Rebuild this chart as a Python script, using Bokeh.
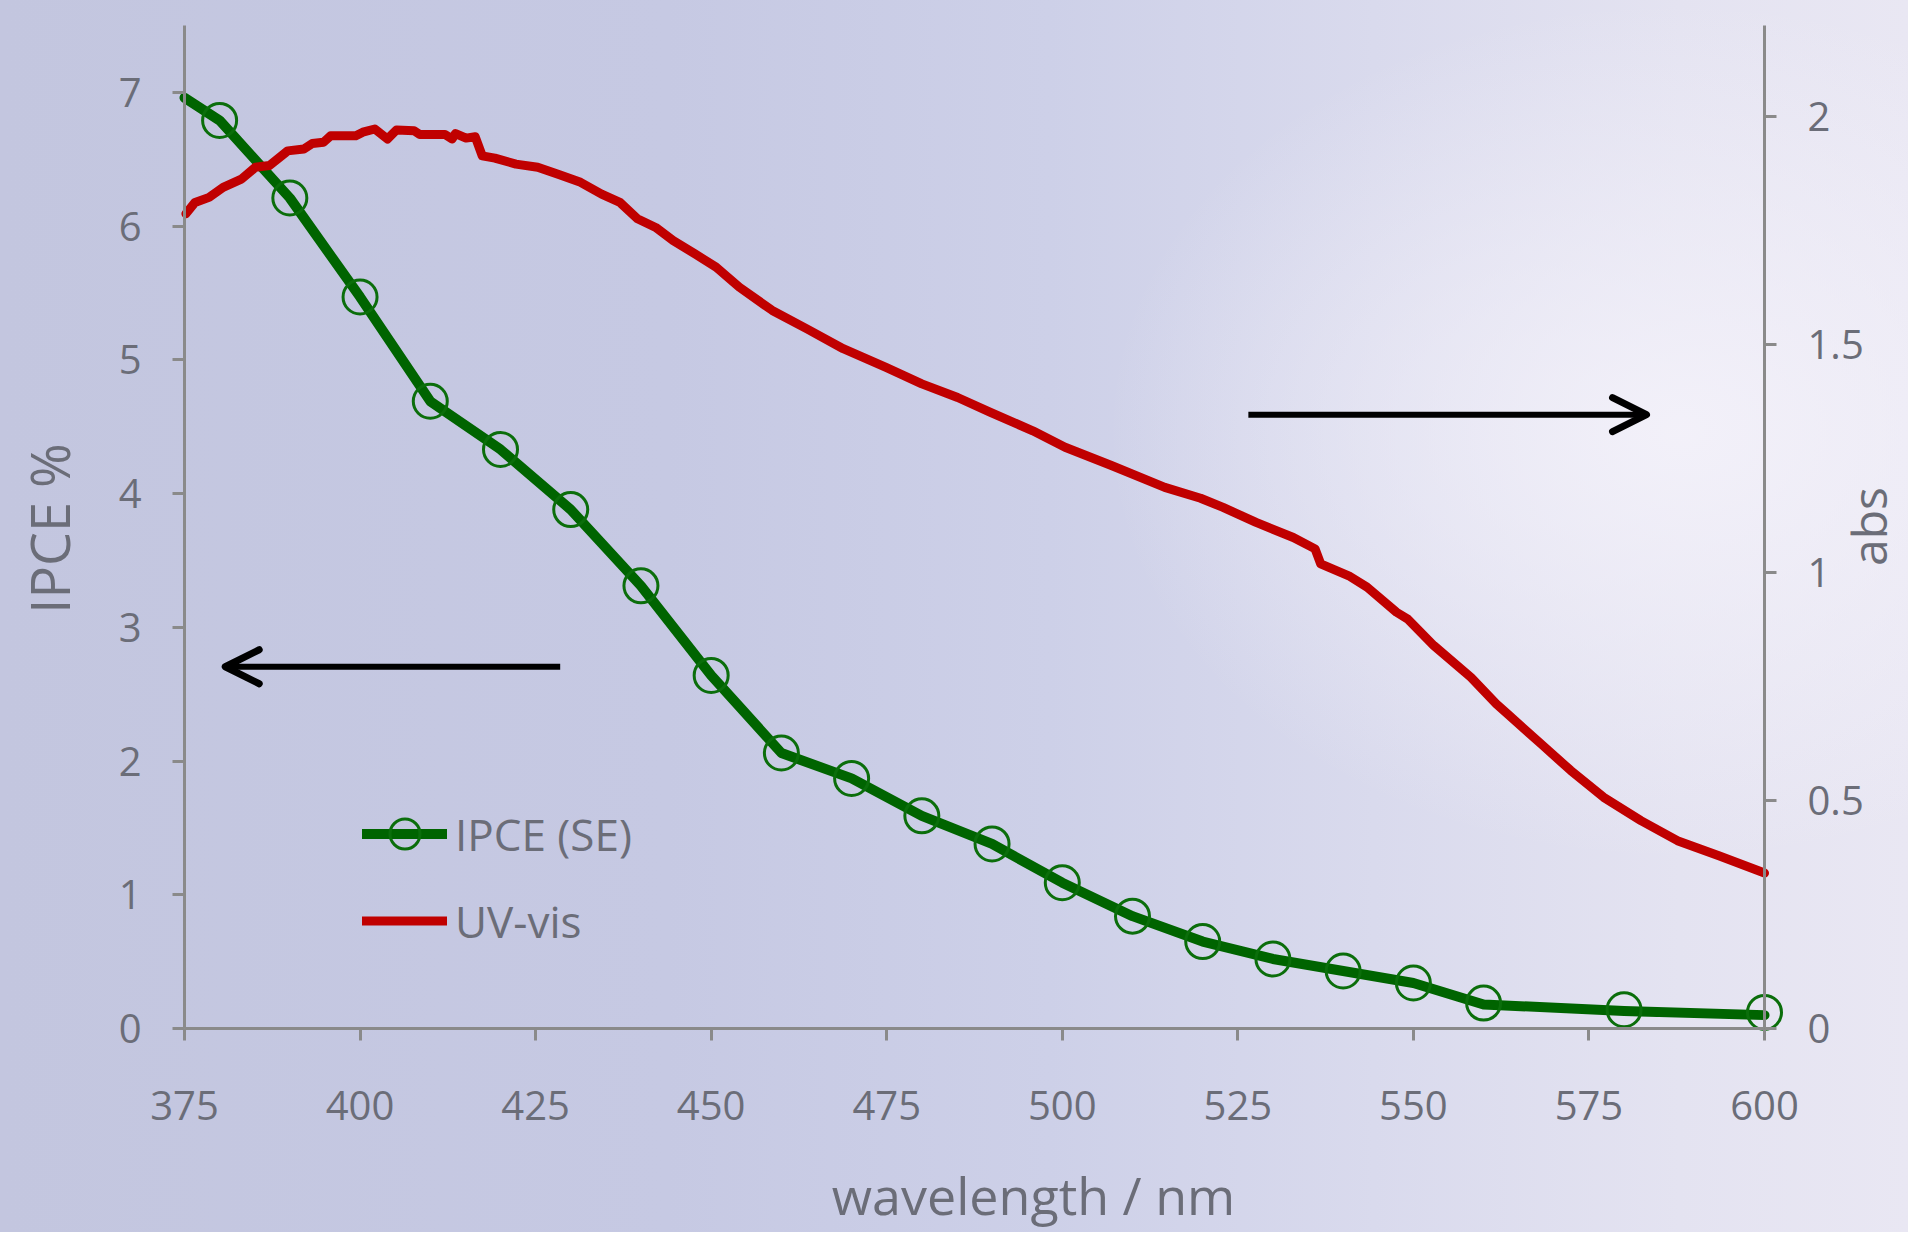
import math
import re
from bokeh.plotting import figure
from bokeh.models import (Range1d, LinearAxis, FixedTicker, NumeralTickFormatter,
                          Legend, LegendItem, Arrow, OpenHead, Label)
from bokeh.embed import file_html
from bokeh.resources import INLINE

# ---------------- data ----------------
x_ticks = [375, 400, 425, 450, 475, 500, 525, 550, 575, 600]
y_ticks_left = [0, 1, 2, 3, 4, 5, 6, 7]
y_ticks_right = [0, 0.5, 1, 1.5, 2]

# IPCE (SE) markers
ipce_wl = [380, 390, 400, 410, 420, 430, 440, 450, 460, 470, 480, 490, 500,
           510, 520, 530, 540, 550, 560, 580, 600]
ipce_val = [6.79, 6.21, 5.47, 4.69, 4.33, 3.88, 3.31, 2.64, 2.06, 1.87, 1.59, 1.38,
            1.09, 0.84, 0.65, 0.52, 0.43, 0.34, 0.19, 0.14, 0.12]
# IPCE line (starts at the axis)
ipce_line_wl = [375, 380, 390, 400, 410, 420, 430, 440, 450, 460, 470, 480, 490,
                500, 510, 520, 530, 540, 550, 560, 580, 600]
ipce_line_val = [6.96, 6.79, 6.21, 5.47, 4.69, 4.33, 3.88, 3.31, 2.64, 2.06, 1.87,
                 1.59, 1.38, 1.09, 0.84, 0.65, 0.52, 0.43, 0.34, 0.18, 0.13, 0.10]

# UV-vis absorbance
uv_wl = [375.2, 376.5, 378.5, 380.5, 383.1, 385.1, 387.1, 389.7, 392.0, 393.2, 394.8,
         395.8, 399.4, 400.4, 402.1, 403.9, 405.2, 407.7, 408.5, 412.1, 413.1, 413.6,
         415.1, 416.4, 417.4, 419.2, 422.2, 425.3, 428.3, 431.4, 434.4, 437.0, 439.5,
         442.1, 444.6, 447.7, 450.7, 454.0, 458.7, 463.7, 468.8, 474.9, 480.0, 485.1,
         489.7, 495.8, 500.4, 507.0, 514.6, 519.7, 522.9, 527.6, 532.9, 536.0, 536.8,
         540.8, 543.4, 547.6, 549.2, 552.9, 558.2, 561.8, 563.4, 568.2, 572.4, 577.1,
         582.4, 587.6, 593.5, 600.0]
uv_val = [1.787, 1.812, 1.823, 1.845, 1.863, 1.889, 1.893, 1.925, 1.929, 1.941, 1.944,
          1.958, 1.958, 1.966, 1.973, 1.951, 1.971, 1.969, 1.961, 1.961, 1.951, 1.963,
          1.953, 1.956, 1.914, 1.909, 1.896, 1.889, 1.873, 1.856, 1.830, 1.812, 1.776,
          1.757, 1.728, 1.699, 1.670, 1.626, 1.575, 1.534, 1.491, 1.450, 1.414, 1.384,
          1.352, 1.311, 1.275, 1.235, 1.187, 1.163, 1.143, 1.110, 1.077, 1.052, 1.019,
          0.993, 0.968, 0.913, 0.898, 0.840, 0.770, 0.712, 0.690, 0.624, 0.566, 0.507,
          0.456, 0.412, 0.379, 0.341]

# axis extents
x_min, x_max = 375, 600
y_min, y_max = 0, 7.5
abs_min, abs_max = 0, 2.2

# annotation arrows (data coordinates)
left_arrow = dict(x_start=428.5, x_end=380.8, y=2.705)
right_arrow = dict(x_start=526.5, x_end=583.2, y=4.59)

# ---------------- page geometry (pixels) ----------------
W, H = 1908, 1232
AX_L, AX_R, AX_T, AX_B = 184, 1764, 25, 1028     # where the axes sit on the canvas
sx = (AX_R - AX_L) / (x_max - x_min)
sy = (AX_B - AX_T) / (y_max - y_min)
sa = (AX_B - AX_T) / (abs_max - abs_min)
xr = Range1d(x_min - AX_L / sx, x_max + (W - AX_R) / sx)
yr = Range1d(y_min - (H - AX_B) / sy, y_max + AX_T / sy)
ar = Range1d(abs_min - (H - AX_B) / sa, abs_max + AX_T / sa)

# ---------------- styles ----------------
FONT = "Open Sans"
TXT = "#6b6d78"
AXC = "#8a8a8a"
GREEN = "#006400"
MARK = "#0b6e0b"
RED = "#c00000"
BG = ("radial-gradient(ellipse 30% 35% at 88% 35%, rgba(244,242,250,0.9), "
      "rgba(244,242,250,0) 100%), linear-gradient(90deg, #c3c6df 0%, #c6c9e3 35%, "
      "#cdd0e8 55%, #d9daed 72%, #e4e3f1 88%, #e9e7f3 100%)")

p = figure(width=W, height=H, x_range=xr, y_range=yr,
           output_backend="svg", toolbar_location=None, x_axis_type=None, y_axis_type=None,
           min_border=0, border_fill_color=None, background_fill_color=None,
           outline_line_color=None)
p.styles = {"background-image": BG}
p.grid.visible = False
p.extra_y_ranges = {"abs": ar}


def style_axis(ax, ticks):
    ax.ticker = FixedTicker(ticks=ticks)
    ax.axis_line_color = AXC
    ax.axis_line_width = 3
    ax.major_tick_line_color = AXC
    ax.major_tick_line_width = 3
    ax.major_tick_in = 0
    ax.major_tick_out = 12
    ax.minor_tick_line_color = None
    ax.major_label_text_font = FONT
    ax.major_label_text_font_size = "40px"
    ax.major_label_text_color = TXT
    ax.major_label_standoff = 31


xaxis = LinearAxis(fixed_location=y_min, bounds=(x_min, x_max))
style_axis(xaxis, x_ticks)
xaxis.major_label_standoff = 50
p.add_layout(xaxis, "below")

yaxis = LinearAxis(fixed_location=x_min, bounds=(y_min, y_max))
style_axis(yaxis, y_ticks_left)
p.add_layout(yaxis, "left")

aaxis = LinearAxis(fixed_location=x_max, bounds=(abs_min, abs_max), y_range_name="abs")
style_axis(aaxis, y_ticks_right)
aaxis.formatter = NumeralTickFormatter(format="0.[0]")
p.add_layout(aaxis, "right")

# ---------------- series ----------------
gl = p.line(ipce_line_wl, ipce_line_val, line_color=GREEN, line_width=10,
            line_join="round", line_cap="round")
gs = p.scatter(ipce_wl, ipce_val, marker="circle", size=34, fill_color=None,
               line_color=MARK, line_width=3)
rl = p.line(uv_wl, uv_val, line_color=RED, line_width=9, line_join="round",
            line_cap="round", y_range_name="abs")

legend = Legend(items=[LegendItem(label="IPCE (SE)", renderers=[gl, gs]),
                       LegendItem(label="UV-vis", renderers=[rl])],
                location=(178 + AX_L, 70 + (H - AX_B)), orientation="vertical",
                glyph_width=85, glyph_height=75, spacing=12, padding=0, margin=0,
                label_standoff=8, label_text_font=FONT, label_text_font_size="44px",
                label_text_color=TXT, border_line_color=None,
                background_fill_alpha=0)
p.add_layout(legend)

# ---------------- arrows ----------------
for a in (left_arrow, right_arrow):
    p.add_layout(Arrow(end=OpenHead(size=34, line_width=7, line_color="black",
                                    line_cap="round", line_join="round"),
                       x_start=a["x_start"], y_start=a["y"], x_end=a["x_end"], y_end=a["y"],
                       line_width=6, line_color="black"))

# ---------------- axis titles (positioned in pixels -> data) ----------------
def px_x(px):
    return x_min + (px - AX_L) / sx


def px_y(py):
    return y_min + (AX_B - py) / sy


p.add_layout(Label(x=px_x(1033), y=px_y(1194), text="wavelength / nm", text_font=FONT,
                   text_font_size="52px", text_color=TXT, text_align="center",
                   text_baseline="alphabetic"))
p.add_layout(Label(x=px_x(48), y=px_y(528), text="IPCE %", text_font=FONT,
                   text_font_size="54px", text_color=TXT, text_align="center",
                   text_baseline="alphabetic", angle=math.pi / 2))
p.add_layout(Label(x=px_x(1868), y=px_y(526), text="abs", text_font=FONT,
                   text_font_size="48px", text_color=TXT, text_align="center",
                   text_baseline="alphabetic", angle=math.pi / 2))

html = file_html(p, INLINE)
html = re.sub(r"<body([^>]*)>", '<body\\1 style="background-image: %s;">' % BG, html, count=1)
open("out.html", "w").write(html)
